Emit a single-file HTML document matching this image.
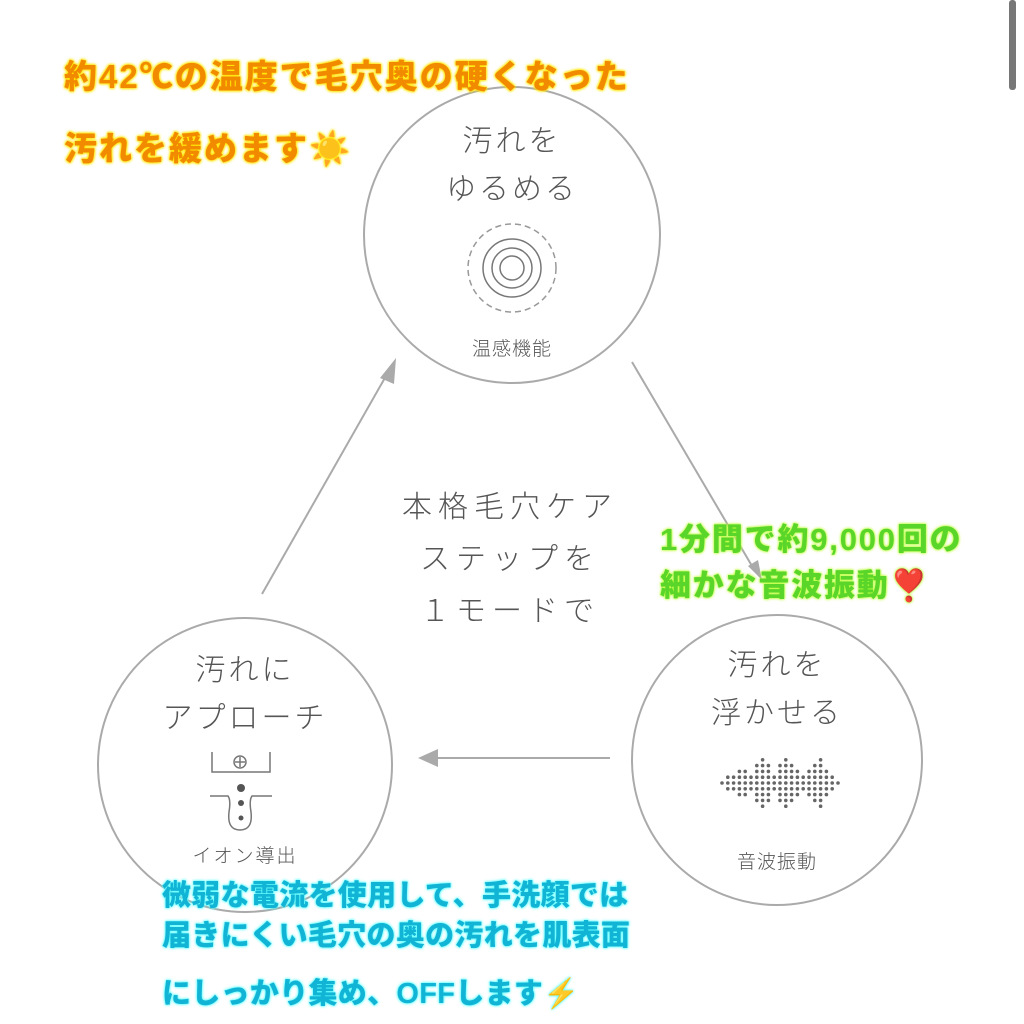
<!DOCTYPE html>
<html><head><meta charset="utf-8"><style>
body{margin:0;width:1024px;height:1024px;background:#fff;position:relative;overflow:hidden;font-family:"Liberation Sans","Noto Sans CJK JP",sans-serif}
.t{position:absolute;white-space:nowrap}
.g{color:#555;font-weight:300;letter-spacing:3px;text-align:center}
.or{color:#f28a00;font-weight:900;font-size:33px;letter-spacing:2px;text-shadow:0 0 3px #ffe600,0 0 3px #ffe600,0 0 2px #ffe600}
.bl{color:#12b4d6;font-weight:900;font-size:29px;letter-spacing:0.3px;text-shadow:0 0 3px #5ff,0 0 2px #5ff}
.gr{color:#5ad52a;font-weight:900;font-size:31px;letter-spacing:1.8px;text-shadow:0 0 3px #b8ff30,0 0 2px #b8ff30}
</style></head><body>
<svg width="1024" height="1024" style="position:absolute;left:0;top:0">
<rect x="1009" y="0" width="7" height="90" rx="3" fill="#777"/>
<g fill="none" stroke="#aaa" stroke-width="2">
<circle cx="512" cy="235" r="148"/>
<circle cx="245" cy="765" r="147"/>
<circle cx="777" cy="760" r="145"/>
<line x1="262" y1="594" x2="386" y2="376"/>
<line x1="632" y1="362" x2="752" y2="566"/>
<line x1="610" y1="758" x2="436" y2="758"/>
</g>
<polygon points="396,358 380,378 394,384" fill="#aaa"/>
<polygon points="418,758 438,749 438,767" fill="#aaa"/>
<polygon points="762,580 748,566 758,560" fill="#aaa"/>
<g fill="none" stroke="#777" stroke-width="1.5">
<circle cx="512" cy="268" r="12"/><circle cx="512" cy="268" r="20"/><circle cx="512" cy="268" r="29"/>
<circle cx="512" cy="268" r="44" stroke-dasharray="6 4" stroke="#999"/>
<polyline points="212,752 212,772 270,772 270,752"/>
<circle cx="240" cy="762" r="6"/><line x1="235" y1="762" x2="245" y2="762"/><line x1="240" y1="757" x2="240" y2="767"/>
<path d="M210 796 H228 Q231 800 229 812 Q227 830 240 830 Q253 830 251 812 Q249 800 252 796 H272"/>
</g>
<circle cx="241" cy="788" r="4" fill="#555"/><circle cx="241" cy="803" r="3" fill="#555"/><circle cx="241" cy="818" r="2.5" fill="#555"/>
<g fill="#666" id="w"></g>
</svg>
<div class="t or" style="left:64px;top:50px">約42℃の温度で毛穴奥の硬くなった</div>
<div class="t or" style="left:64px;top:122px">汚れを緩めます☀️</div>
<div class="t g" style="left:412px;top:118px;width:200px;font-size:30px;line-height:48px">汚れを<br>ゆるめる</div>
<div class="t g" style="left:412px;top:334px;width:200px;font-size:19px;letter-spacing:1px">温感機能</div>
<div class="t g" style="left:380px;top:482px;width:260px;font-size:30px;line-height:52px;letter-spacing:6px">本格毛穴ケア<br>ステップを<br>１モードで</div>
<div class="t gr" style="left:660px;top:514px">1分間で約9,000回の</div>
<div class="t gr" style="left:660px;top:560px">細かな音波振動❣️</div>
<div class="t g" style="left:677px;top:642px;width:200px;font-size:30px;line-height:48px">汚れを<br>浮かせる</div>
<div class="t g" style="left:677px;top:847px;width:200px;font-size:19px;letter-spacing:1px">音波振動</div>
<div class="t g" style="left:125px;top:647px;width:240px;font-size:30px;line-height:48px">汚れに<br>アプローチ</div>
<div class="t g" style="left:145px;top:841px;width:200px;font-size:19px;letter-spacing:2px">イオン導出</div>
<div class="t bl" style="left:162px;top:872px">微弱な電流を使用して、手洗顔では</div>
<div class="t bl" style="left:162px;top:912px">届きにくい毛穴の奥の汚れを肌表面</div>
<div class="t bl" style="left:162px;top:970px">にしっかり集め、OFFします⚡</div>
<script>
var h=[0,1,1,2,2,1,3,4,3,1,3,4,3,2,1,2,3,4,2,1,0];
var g=document.getElementById('w'),s='';
for(var i=0;i<h.length;i++){var x=722+i*5.8;for(var k=-h[i];k<=h[i];k++){s+='<circle cx="'+x.toFixed(1)+'" cy="'+(783+k*5.8)+'" r="1.8"/>';}}
g.innerHTML=s;
</script>
</body></html>
